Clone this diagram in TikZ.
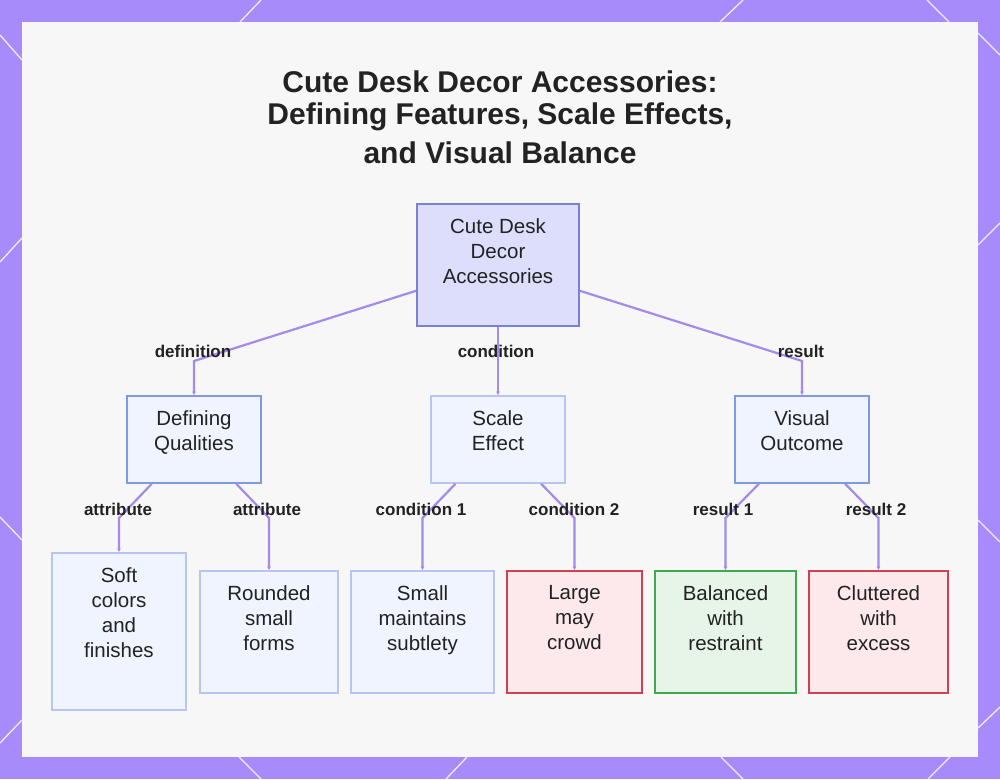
\documentclass[tikz,border=0pt]{standalone}
\usepackage{fontspec}
\setmainfont{Liberation Sans}
\usetikzlibrary{arrows.meta}

\definecolor{frame}{HTML}{A78BFA}
\definecolor{linkc}{HTML}{A28BEA}
\definecolor{ink}{HTML}{222222}
\definecolor{rootfill}{HTML}{DCDEFB}
\definecolor{rootline}{HTML}{7A80D8}
\definecolor{midfill}{HTML}{F0F4FE}
\definecolor{midline}{HTML}{7E9BE2}
\definecolor{softline}{HTML}{B8C5F2}
\definecolor{badfill}{HTML}{FDE9EC}
\definecolor{badline}{HTML}{D0414F}
\definecolor{goodfill}{HTML}{E6F5E8}
\definecolor{goodline}{HTML}{3FA950}

\tikzset{
  box/.style={draw, line width=1.6pt, inner sep=0pt},
  rootbox/.style={box, draw=rootline, fill=rootfill},
  midbox/.style={box, draw=midline, fill=midfill},
  leafbox/.style={box, draw=softline, fill=midfill},
  badbox/.style={box, draw=badline, fill=badfill},
  goodbox/.style={box, draw=goodline, fill=goodfill},
  txt/.style={anchor=north, yshift=-12pt, align=center, text=ink,
    font=\fontsize{20.5}{25}\selectfont},
  tag/.style={text=ink, font=\bfseries\fontsize{17}{19}\selectfont},
  link/.style={draw=linkc, line width=2.2pt, -{Latex[length=3.5pt,width=4pt]}},
  headline/.style={anchor=base, text=ink, font=\bfseries\fontsize{30}{34}\selectfont},
}

\begin{document}
\begin{tikzpicture}[x=1pt, y=-1pt]
  \useasboundingbox (0,0) rectangle (1000,779);
  % frame and panel
  \fill[frame] (0,0) rectangle (1000,779);
  \foreach \xa/\ya/\xb/\yb in {240/22/261/0, 720/22/743/0, 927/0/949/22,
      0/35/22/60, 0/262/22/238, 0/517/22/540, 0/743/22/720,
      978/33/1000/55, 978/245/1000/223, 978/520/1000/542, 978/728/1000/707,
      239/757/261/779, 467/757/446/779, 721/757/743/779, 950/757/928/779}
    \draw[white, line width=1.3pt, opacity=0.85] (\xa,\ya) -- (\xb,\yb);
  \fill[white!97!black] (22,22) rectangle (978,757);

  % title
  \node[headline] (title1) at (500,92) {Cute Desk Decor Accessories:};
  \node[headline] (title2) at (500,124) {Defining Features, Scale Effects,};
  \node[headline] (title3) at (500,163) {and Visual Balance};

  % boxes
  \node[rootbox, minimum width=162pt, minimum height=122pt,
    label={[txt]north:{Cute Desk\\Decor\\Accessories}}] (root) at (498,265) {};
  \node[midbox, minimum width=134pt, minimum height=87pt,
    label={[txt]north:{Defining\\Qualities}}] (defq) at (194,439.5) {};
  \node[leafbox, minimum width=134pt, minimum height=87pt,
    label={[txt]north:{Scale\\Effect}}] (scale) at (498,439.5) {};
  \node[midbox, minimum width=134pt, minimum height=87pt,
    label={[txt]north:{Visual\\Outcome}}] (visual) at (802,439.5) {};

  \node[leafbox, minimum width=134pt, minimum height=157pt,
    label={[txt]north:{Soft\\colors\\and\\finishes}}] (soft) at (119,631.5) {};
  \node[leafbox, minimum width=138pt, minimum height=122pt,
    label={[txt]north:{Rounded\\small\\forms}}] (rounded) at (269,632) {};
  \node[leafbox, minimum width=143pt, minimum height=122pt,
    label={[txt]north:{Small\\maintains\\subtlety}}] (small) at (422.5,632) {};
  \node[badbox, minimum width=135pt, minimum height=122pt,
    label={[txt]north:{Large\\may\\crowd}}] (large) at (574.5,632) {};
  \node[goodbox, minimum width=141pt, minimum height=122pt,
    label={[txt]north:{Balanced\\with\\restraint}}] (balanced) at (725.5,632) {};
  \node[badbox, minimum width=139pt, minimum height=122pt,
    label={[txt]north:{Cluttered\\with\\excess}}] (cluttered) at (878.5,632) {};

  % bends
  \coordinate (b1) at (194,361);
  \coordinate (b3) at (802,361);
  \coordinate (c1) at (119,518);
  \coordinate (c2) at (269,518);
  \coordinate (c3) at (422.5,518);
  \coordinate (c4) at (574.5,518);
  \coordinate (c5) at (725.5,518);
  \coordinate (c6) at (878.5,518);

  % connectors
  \draw[link] (root) -- (b1) -- (defq);
  \draw[link] (root) -- (scale);
  \draw[link] (root) -- (b3) -- (visual);
  \draw[link] (defq) -- (c1) -- (soft);
  \draw[link] (defq) -- (c2) -- (rounded);
  \draw[link] (scale) -- (c3) -- (small);
  \draw[link] (scale) -- (c4) -- (large);
  \draw[link] (visual) -- (c5) -- (balanced);
  \draw[link] (visual) -- (c6) -- (cluttered);

  % connector labels
  \node[tag] (t1) at (193,351) {definition};
  \node[tag] (t2) at (496,351) {condition};
  \node[tag] (t3) at (801,351) {result};
  \node[tag] (t4) at (118,509) {attribute};
  \node[tag] (t5) at (267,509) {attribute};
  \node[tag] (t6) at (421,509) {condition 1};
  \node[tag] (t7) at (574,509) {condition 2};
  \node[tag] (t8) at (723,509) {result 1};
  \node[tag] (t9) at (876,509) {result 2};
\end{tikzpicture}
\end{document}
